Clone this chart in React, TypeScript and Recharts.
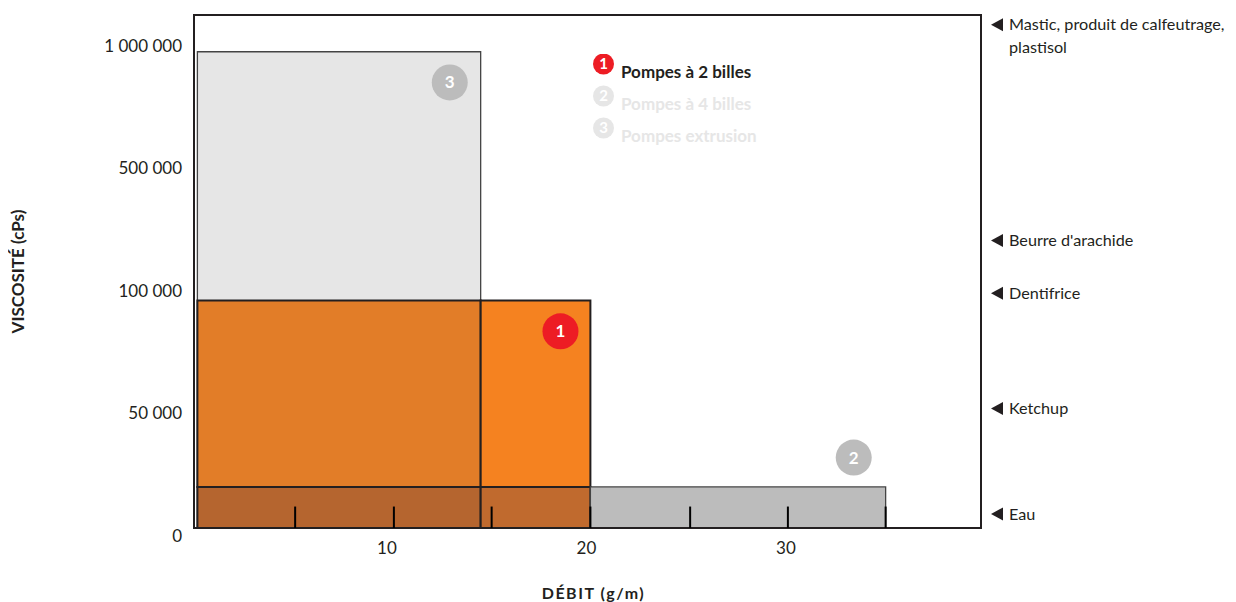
import React from "react";
import {
  ComposedChart,
  XAxis,
  YAxis,
  ReferenceArea,
  ReferenceLine,
  ReferenceDot,
  Legend,
} from "recharts";

// viscosity levels shown on the left axis (evenly spaced on the chart)
const viscosityTicks = [0, 50000, 100000, 500000, 1000000];
const debitTicks = [10, 20, 30];

// operating zones (débit in g/m, viscosité in cPs)
const zones = [
  { pumps: "3", debitMin: 0.5, debitMax: 14.7, viscMin: 0, viscMax: 975000 },
  { pumps: "1+3", debitMin: 0.5, debitMax: 14.7, viscMin: 20000, viscMax: 96000 },
  { pumps: "1", debitMin: 14.7, debitMax: 20.2, viscMin: 20000, viscMax: 96000 },
  { pumps: "1+2+3", debitMin: 0.5, debitMax: 14.7, viscMin: 0, viscMax: 20000 },
  { pumps: "1+2", debitMin: 14.7, debitMax: 20.2, viscMin: 0, viscMax: 20000 },
  { pumps: "2", debitMin: 20.2, debitMax: 35, viscMin: 0, viscMax: 20000 },
];
const zoneColors = ["#e6e6e6", "#e27d28", "#f58220", "#b5652f", "#c06a2e", "#bcbcbc"];
const zoneStrokes = ["#444444", "#231f20", "#231f20", "#231f20", "#231f20", "#444444"];

// small marks inside the bottom band
const bandMarks = [5.4, 10.35, 15.25, 20.2, 25.2, 30.1, 35];
const bandMarkHeight = 12000;

// numbered badges
const badges = [
  { label: "3", debit: 13.15, visc: 850000 },
  { label: "1", debit: 18.7, visc: 83500 },
  { label: "2", debit: 33.4, visc: 32000 },
];
const badgeColors = ["#bcbcbc", "#ed1c24", "#bcbcbc"];

// products on the right axis
const products = [
  { name: ["Eau"], visc: 9000 },
  { name: ["Ketchup"], visc: 52000 },
  { name: ["Dentifrice"], visc: 99000 },
  { name: ["Beurre d'arachide"], visc: 264000 },
  { name: ["Mastic, produit de calfeutrage,", "plastisol"], visc: 1085000 },
];

const legendItems = ["Pompes à 2 billes", "Pompes à 4 billes", "Pompes extrusion"];
const legendActive = [true, false, false];

const FONT = "Lato, 'Open Sans', sans-serif";
const INK = "#231f20";
const X_DOMAIN: [number, number] = [0.33, 39.78];
const Y_DOMAIN: [number, number] = [0.065, 4.25];

// piecewise mapping viscosity -> position on the evenly spaced axis
function toAxis(v: number) {
  const l = viscosityTicks;
  for (let i = 1; i < l.length; i++) {
    if (v <= l[i] || i === l.length - 1) {
      return i - 1 + (v - l[i - 1]) / (l[i] - l[i - 1]);
    }
  }
  return 0;
}

const fmt = (v: number) => String(v).replace(/\B(?=(\d{3})+(?!\d))/g, " ");

const chartData = zones.map((z) => ({ debit: z.debitMax, pos: toAxis(z.viscMax) }));

function RightTick(props: any) {
  const { x, y, index } = props;
  const p = products[index];
  if (!p) return null;
  return (
    <g>
      <polygon
        points={`${x + 10},${y} ${x + 22},${y - 6.5} ${x + 22},${y + 6.5}`}
        fill={INK}
      />
      <text x={x + 28} y={y} fill={INK} fontFamily={FONT} fontSize={16.2}>
        {p.name.map((line, i) => (
          <tspan key={i} x={x + 28} dy={i === 0 ? "0.35em" : 23}>
            {line}
          </tspan>
        ))}
      </text>
    </g>
  );
}

function LegendBox() {
  return (
    <svg width={200} height={100} style={{ display: "block" }}>
      {legendItems.map((item, i) => {
        const on = legendActive[i];
        const cy = 10 + i * 32;
        return (
          <g key={item}>
            <circle cx={10.5} cy={cy} r={10.5} fill={on ? "#ed1c24" : "#e6e6e6"} />
            <text
              x={10.5}
              y={cy}
              dy="0.36em"
              textAnchor="middle"
              fill="#ffffff"
              fontFamily={FONT}
              fontWeight={700}
              fontSize={15}
            >
              {i + 1}
            </text>
            <text
              x={28}
              y={cy + 14}
              fill={on ? INK : "#e6e6e6"}
              fontFamily={FONT}
              fontWeight={700}
              fontSize={17}
            >
              {item}
            </text>
          </g>
        );
      })}
    </svg>
  );
}

export default function App() {
  return (
    <ComposedChart
      width={1228}
      height={594}
      data={chartData}
      margin={{ top: 7, right: 0, bottom: 0, left: 0 }}
      style={{ fontFamily: FONT }}
    >
      <XAxis
        dataKey="debit"
        type="number"
        domain={X_DOMAIN}
        allowDataOverflow
        ticks={debitTicks}
        interval={0}
        height={74}
        axisLine={false}
        tickLine={false}
        tickSize={0}
        tickMargin={14}
        tick={{ fill: INK, fontSize: 17, fontFamily: FONT }}
        label={{
          value: "DÉBIT (g/m)",
          position: "insideBottom",
          offset: 3,
          dx: 6,
          style: { fill: INK, fontWeight: 700, fontSize: 16, letterSpacing: 1.5, fontFamily: FONT },
        }}
      />
      <YAxis
        dataKey="pos"
        type="number"
        domain={Y_DOMAIN}
        allowDataOverflow
        ticks={viscosityTicks.map(toAxis)}
        tickFormatter={(v: number) => fmt(viscosityTicks[Math.round(v)])}
        interval={0}
        width={186}
        axisLine={false}
        tickLine={false}
        tickSize={0}
        tickMargin={12}
        tick={{ fill: INK, fontSize: 17, fontFamily: FONT }}
        label={{
          value: "VISCOSITÉ (cPs)",
          angle: -90,
          position: "insideLeft",
          offset: 10,
          style: { fill: INK, fontWeight: 700, fontSize: 17, textAnchor: "middle", fontFamily: FONT },
        }}
      />
      <YAxis
        yAxisId="right"
        dataKey="pos"
        orientation="right"
        type="number"
        domain={Y_DOMAIN}
        allowDataOverflow
        ticks={products.map((p) => toAxis(p.visc))}
        interval={0}
        width={255}
        axisLine={false}
        tickLine={false}
        tickSize={0}
        tickMargin={0}
        tick={<RightTick />}
      />
      {zones.map((z, i) => (
        <ReferenceArea
          key={z.pumps}
          x1={z.debitMin}
          x2={z.debitMax}
          y1={toAxis(z.viscMin)}
          y2={toAxis(z.viscMax)}
          fill={zoneColors[i]}
          fillOpacity={1}
          stroke={zoneStrokes[i]}
          strokeWidth={i === 0 || i === 5 ? 1.3 : 2}
          ifOverflow="hidden"
        />
      ))}
      {bandMarks.map((d) => (
        <ReferenceLine
          key={d}
          segment={[
            { x: d, y: toAxis(0) },
            { x: d, y: toAxis(bandMarkHeight) },
          ]}
          stroke="#000000"
          strokeWidth={2}
          ifOverflow="hidden"
        />
      ))}
      {badges.map((b, i) => (
        <ReferenceDot
          key={b.label}
          x={b.debit}
          y={toAxis(b.visc)}
          r={18}
          fill={badgeColors[i]}
          stroke="none"
          label={{
            value: b.label,
            position: "center",
            fill: "#ffffff",
            fontSize: 17,
            fontWeight: 700,
            fontFamily: FONT,
          }}
        />
      ))}
      <ReferenceArea
        x1={X_DOMAIN[0]}
        x2={X_DOMAIN[1]}
        y1={Y_DOMAIN[0]}
        y2={Y_DOMAIN[1]}
        fill="none"
        stroke={INK}
        strokeWidth={2}
        ifOverflow="visible"
      />
      <Legend
        layout="vertical"
        align="center"
        verticalAlign="middle"
        wrapperStyle={{ left: 585, top: 46, width: 200 }}
        content={() => <LegendBox />}
      />
    </ComposedChart>
  );
}
